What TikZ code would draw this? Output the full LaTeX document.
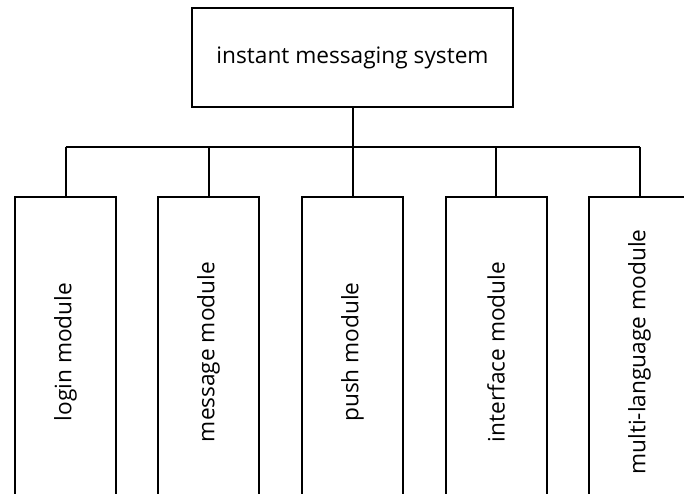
\documentclass[tikz,border=0pt]{standalone}
\usepackage{fontspec}
\setmainfont{Open Sans}
\begin{document}
\begin{tikzpicture}[x=0.75pt,y=-0.75pt,
  box/.style={draw=black,line width=1.5pt,fill=white,inner sep=0pt,outer sep=0pt},
  link/.style={draw=black,line width=1.5pt},
  lbl/.style={font=\fontsize{17}{19}\selectfont,rotate=90,anchor=center}]
\useasboundingbox (0,0) rectangle (684,493);
\clip (0,0) rectangle (684,493);
% root box
\node[box,minimum width=321*0.75pt,minimum height=99*0.75pt,font=\fontsize{17}{20}\selectfont] (root) at (352.5,57.5) {instant messaging system};
% module boxes
\foreach \n/\cx/\t in {m1/65.5/login module, m2/208.5/message module, m3/352.5/push module, m4/496/interface module, m5/639.5/multi-language module}{
  \node[box,minimum width=101*0.75pt,minimum height=310*0.75pt] (\n) at (\cx,352) {};
  \node[lbl] at (\n.center) {\t};
}
% bus
\coordinate (bus) at (352.5,147);
\draw[link] (root.south) -- (bus);
\draw[link] (m1.north |- bus) -- (m5.north |- bus);
\foreach \n in {m1,m2,m3,m4,m5}{
  \draw[link] (\n.north |- bus) -- (\n.north);
}
\end{tikzpicture}
\end{document}
